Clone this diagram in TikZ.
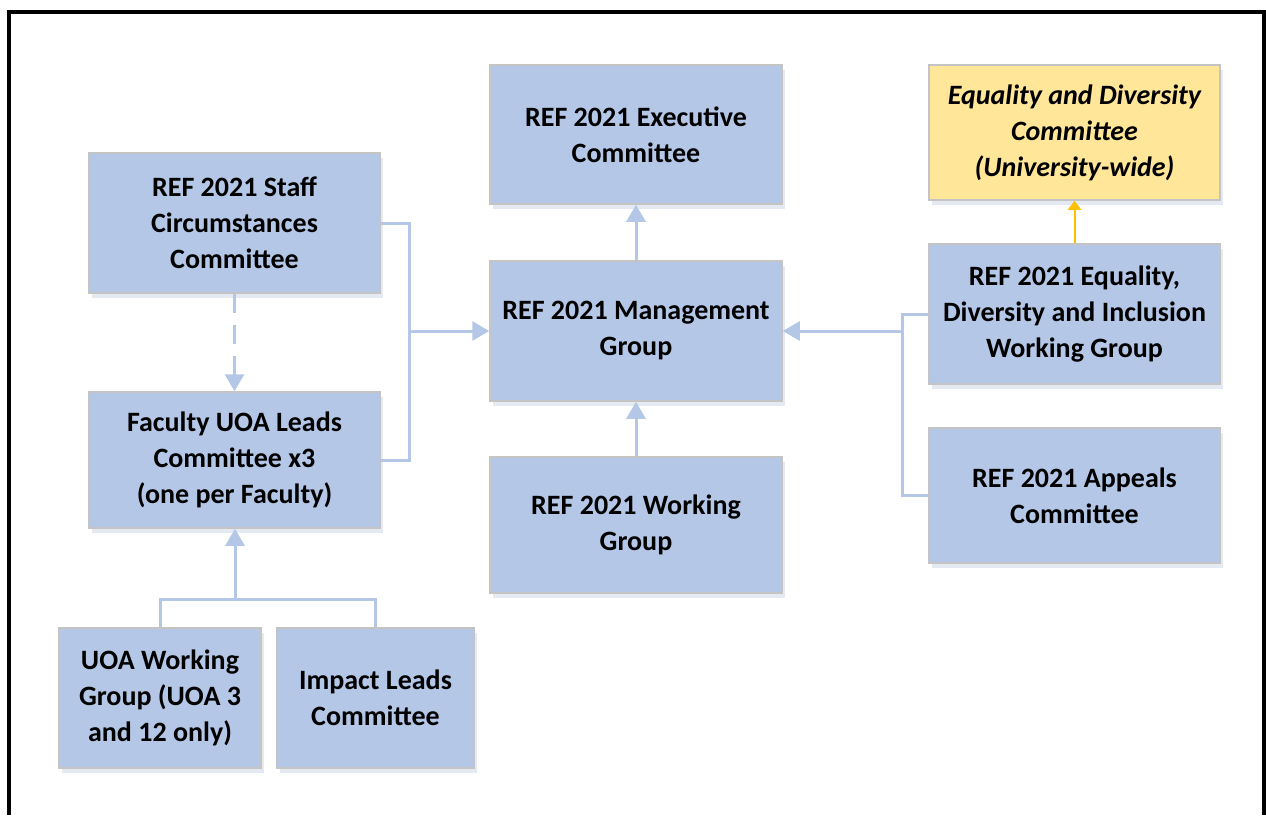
\documentclass[tikz,border=0pt]{standalone}
\usepackage{fontspec}
\setmainfont{Carlito}
\usetikzlibrary{arrows.meta,shadows}
\definecolor{boxblue}{HTML}{B4C7E7}
\definecolor{boxline}{HTML}{C4C4C4}
\definecolor{boxyellow}{HTML}{FFE699}
\definecolor{arrowyellow}{HTML}{FFC000}
\definecolor{shadowc}{HTML}{E4E9F2}
\tikzset{
  box/.style={draw=boxline, line width=1.5pt, fill=boxblue, inner sep=0pt,
    align=center, text=black,
    font=\fontsize{28}{36}\selectfont\bfseries,
    drop shadow={shadow xshift=3pt, shadow yshift=-5pt, fill=shadowc, opacity=1}},
  ybox/.style={box, fill=boxyellow, font=\fontsize{28}{36}\selectfont\bfseries\itshape},
  conn/.style={draw=boxblue, line width=3pt},
  arr/.style={conn, -{Triangle[width=19pt,length=17pt]}},
  yarr/.style={draw=arrowyellow, line width=2pt, -{Triangle[width=13pt,length=9pt]}},
  frame/.style={draw=black, line width=4pt}
}
\begin{document}
\begin{tikzpicture}[x=1pt,y=-1pt]
\useasboundingbox (0,0) rectangle (1266,815);
% frame
\draw[frame] (8.5,815) -- (8.5,11.5) -- (1264,11.5) -- (1264,815);
% nodes
\node[box, minimum width=291pt, minimum height=140pt] (staff) at (234.5,223)
  {REF 2021 Staff\\Circumstances\\Committee};
\node[box, minimum width=291pt, minimum height=136pt] (fac) at (234.5,460)
  {Faculty UOA Leads\\Committee x3\\(one per Faculty)};
\node[box, minimum width=202pt, minimum height=140pt] (uoa) at (160,698)
  {UOA Working\\Group (UOA 3\\and 12 only)};
\node[box, minimum width=197pt, minimum height=140pt] (imp) at (375.5,698)
  {Impact Leads\\Committee};
\node[box, minimum width=292pt, minimum height=139pt] (exec) at (636,134.5)
  {REF 2021 Executive\\Committee};
\node[box, minimum width=292pt, minimum height=140pt] (mgmt) at (636,331)
  {REF 2021 Management\\Group};
\node[box, minimum width=292pt, minimum height=136pt] (wg) at (636,525)
  {REF 2021 Working\\Group};
\node[ybox, minimum width=291pt, minimum height=135pt] (eqd) at (1074.5,132.5)
  {Equality and Diversity\\Committee\\(University-wide)};
\node[box, minimum width=291pt, minimum height=140pt] (edi) at (1074.5,314)
  {REF 2021 Equality,\\Diversity and Inclusion\\Working Group};
\node[box, minimum width=291pt, minimum height=135pt] (app) at (1074.5,495.5)
  {REF 2021 Appeals\\Committee};
% junction coordinates
\coordinate (lj) at (409,331);
\coordinate (rj) at (902,331);
\coordinate (bj) at (235,599);
% connectors
\draw[conn] (staff.east) -| (lj) |- (fac.east);
\draw[arr] (lj) -- (mgmt.west);
\draw[conn] (edi.west) -| (rj) |- (app.west);
\draw[arr] (rj) -- (mgmt.east);
\draw[arr, dash pattern=on 19pt off 12pt] (staff.south) -- (fac.north);
\draw[conn] (uoa.north) |- (bj) -| (imp.north);
\draw[arr] (bj) -- (bj |- fac.south);
\draw[arr] (mgmt.north) -- (exec.south);
\draw[arr] (wg.north) -- (mgmt.south);
\draw[yarr] (edi.north) -- (eqd.south);
\end{tikzpicture}
\end{document}
